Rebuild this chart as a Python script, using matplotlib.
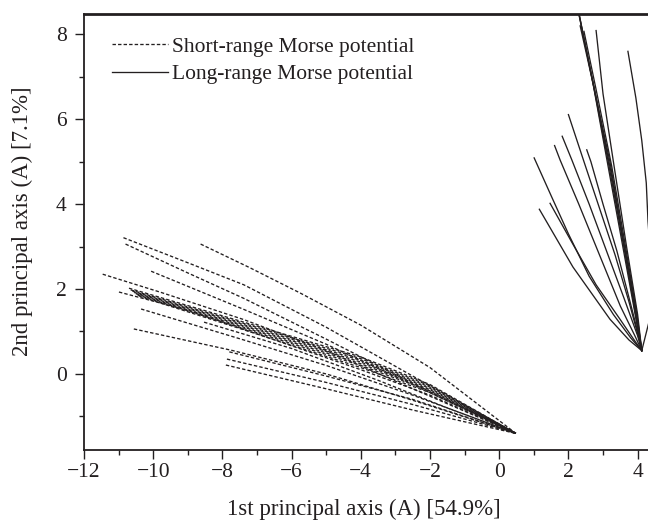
import matplotlib
matplotlib.use("Agg")
import matplotlib.pyplot as plt
from matplotlib.ticker import MultipleLocator

plt.rcParams['font.family'] = ['Liberation Serif', 'DejaVu Serif']

# Short-range Morse trajectories (dashed), x and y per trajectory
short_x = [
    [-10.86, -9.0, -7.38, -5.0, -2.5, 0.48],
    [-10.80, -9.0, -7.38, -5.0, -2.5, 0.48],
    [-8.63, -7.2, -5.76, -4.0, -2.0, -0.8, 0.48],
    [-10.06, -7.38, -5.0, -2.5, 0.48],
    [-11.46, -9.77, -7.38, -5.0, -2.5, 0.48],
    [-10.70, -7.38, -4.0, -2.0, 0.48],
    [-10.65, -7.38, -4.0, -2.0, 0.48],
    [-10.60, -7.38, -4.0, -2.0, 0.48],
    [-10.55, -7.38, -4.0, -2.0, 0.48],
    [-10.50, -7.38, -4.0, -2.0, 0.48],
    [-10.45, -7.38, -4.0, -2.0, 0.48],
    [-10.40, -7.38, -4.0, -2.0, 0.48],
    [-10.99, -9.0, -7.38, -4.0, -2.0, 0.48],
    [-10.35, -7.38, -5.0, -2.5, 0.48],
    [-10.56, -7.75, -5.0, -2.5, 0.48],
    [-7.87, -5.0, -2.5, 0.48],
    [-7.90, -5.0, -2.5, 0.48],
    [-8.53, -6.0, -3.5, -1.5, 0.48],
    [-7.80, -5.0, -2.5, 0.48],
]
short_y = [
    [3.21, 2.62, 2.10, 1.10, -0.05, -1.40],
    [3.06, 2.38, 1.78, 0.82, -0.22, -1.40],
    [3.06, 2.50, 1.91, 1.15, 0.15, -0.60, -1.40],
    [2.42, 1.52, 0.70, -0.25, -1.40],
    [2.35, 1.92, 1.28, 0.55, -0.35, -1.40],
    [2.02, 1.22, 0.40, -0.25, -1.40],
    [1.98, 1.19, 0.36, -0.28, -1.40],
    [1.95, 1.16, 0.32, -0.31, -1.40],
    [1.92, 1.13, 0.28, -0.34, -1.40],
    [1.89, 1.10, 0.24, -0.37, -1.40],
    [1.86, 1.07, 0.20, -0.40, -1.40],
    [1.83, 1.04, 0.15, -0.44, -1.40],
    [1.93, 1.50, 1.05, 0.10, -0.50, -1.40],
    [1.53, 0.80, 0.20, -0.50, -1.40],
    [1.06, 0.56, 0.00, -0.62, -1.40],
    [0.35, -0.20, -0.72, -1.40],
    [0.21, -0.35, -0.85, -1.40],
    [1.22, 0.60, -0.15, -0.80, -1.40],
    [0.52, -0.05, -0.60, -1.40],
]

# Long-range Morse trajectories (solid)
long_x = [
    [2.22, 2.70, 3.15, 3.60, 3.95, 4.12],
    [2.34, 2.75, 3.20, 3.62, 3.97, 4.12],
    [2.45, 2.80, 3.25, 3.65, 3.98, 4.12],
    [2.80, 3.00, 3.30, 3.68, 4.00, 4.12],
    [2.28, 2.72, 3.10, 3.55, 3.93, 4.12],
    [2.30, 2.78, 3.22, 3.64, 3.96, 4.12],
    [3.72, 3.95, 4.12, 4.25, 4.30, 4.40, 4.32, 4.12],
    [2.00, 2.45, 2.90, 3.35, 3.75, 4.05, 4.12],
    [1.82, 2.10, 2.60, 3.10, 3.60, 4.00, 4.12],
    [1.60, 1.76, 2.30, 2.90, 3.50, 3.92, 4.12],
    [2.53, 2.65, 3.00, 3.40, 3.75, 4.00, 4.12],
    [1.01, 1.50, 2.00, 2.60, 3.30, 3.80, 4.12],
    [1.47, 2.10, 2.80, 3.49, 3.90, 4.12],
    [1.16, 2.13, 3.20, 3.75, 4.12],
]
long_y = [
    [8.80, 6.90, 5.00, 3.00, 1.40, 0.55],
    [8.20, 6.70, 5.00, 3.00, 1.40, 0.55],
    [8.07, 6.70, 4.90, 3.00, 1.40, 0.55],
    [8.09, 6.60, 5.00, 3.00, 1.40, 0.55],
    [8.60, 6.80, 5.10, 3.10, 1.40, 0.55],
    [8.50, 6.60, 4.80, 2.90, 1.30, 0.55],
    [7.60, 6.50, 5.50, 4.50, 3.60, 2.50, 1.20, 0.55],
    [6.11, 5.00, 3.90, 2.80, 1.70, 0.80, 0.55],
    [5.60, 5.04, 4.00, 2.90, 1.80, 0.90, 0.55],
    [5.38, 5.04, 4.00, 2.80, 1.60, 0.90, 0.55],
    [5.28, 5.00, 4.00, 2.90, 1.80, 1.00, 0.55],
    [5.09, 4.20, 3.30, 2.30, 1.40, 0.85, 0.55],
    [4.02, 3.10, 2.10, 1.29, 0.80, 0.55],
    [3.88, 2.52, 1.29, 0.80, 0.55],
]

x_ticks = [-12, -10, -8, -6, -4, -2, 0, 2, 4]
y_ticks = [0, 2, 4, 6, 8]
x_label = "1st principal axis (A) [54.9%]"
y_label = "2nd principal axis (A) [7.1%]"
legend_labels = ["Short-range Morse potential", "Long-range Morse potential"]

col = '#231f20'
fig = plt.figure(figsize=(6.48, 5.21), dpi=100)
ax = fig.add_axes([84/648, (521-449.5)/521, 1 - 84/648, (449.5-14)/521])

for i, (xs, ys) in enumerate(zip(short_x, short_y)):
    ax.plot(xs, ys, color=col, lw=0.95, linestyle=(0, (2.6, 1.6)),
            label=legend_labels[0] if i == 0 else None)
for i, (xs, ys) in enumerate(zip(long_x, long_y)):
    ax.plot(xs, ys, color=col, lw=0.95, linestyle='-',
            label=legend_labels[1] if i == 0 else None)

ax.set_xlim(-12, 4.3)
ax.set_ylim(-1.78, 8.48)
ax.set_xticks(x_ticks)
ax.set_xticklabels([("\u2212%d" % -t) if t < 0 else str(t) for t in x_ticks])
ax.set_yticks(y_ticks)
ax.xaxis.set_minor_locator(MultipleLocator(1))
ax.yaxis.set_minor_locator(MultipleLocator(1))
ax.tick_params(which='major', direction='out', length=6.5, width=1.0,
               labelsize=15.5, color=col, labelcolor=col)
ax.tick_params(which='minor', direction='out', length=3.5, width=1.0, color=col)
ax.tick_params(axis='x', which='major', pad=3)
ax.tick_params(axis='y', which='major', pad=6)
ax.spines['right'].set_visible(False)
ax.spines['top'].set_linewidth(2.0)
for s in ['left', 'bottom']:
    ax.spines[s].set_linewidth(1.3)
for s in ['left', 'bottom', 'top']:
    ax.spines[s].set_color(col)

ax.set_xlabel(x_label, fontsize=16.5, color=col)
ax.set_ylabel(y_label, fontsize=16.5, color=col)
ax.xaxis.set_label_coords((364 - 84) / 564, -(499 - 449.5) / 435.5)
ax.xaxis.label.set_va('top')
ax.yaxis.set_label_coords((33 - 84) / 564, (449.5 - 221) / 435.5)

leg = ax.legend(loc='upper left', bbox_to_anchor=(0.034, 0.968), frameon=False,
                fontsize=15.5, handlelength=2.6, handletextpad=0.2,
                labelspacing=0.35, borderaxespad=0.0, labelcolor=col)

fig.savefig('out.png', dpi=100)
